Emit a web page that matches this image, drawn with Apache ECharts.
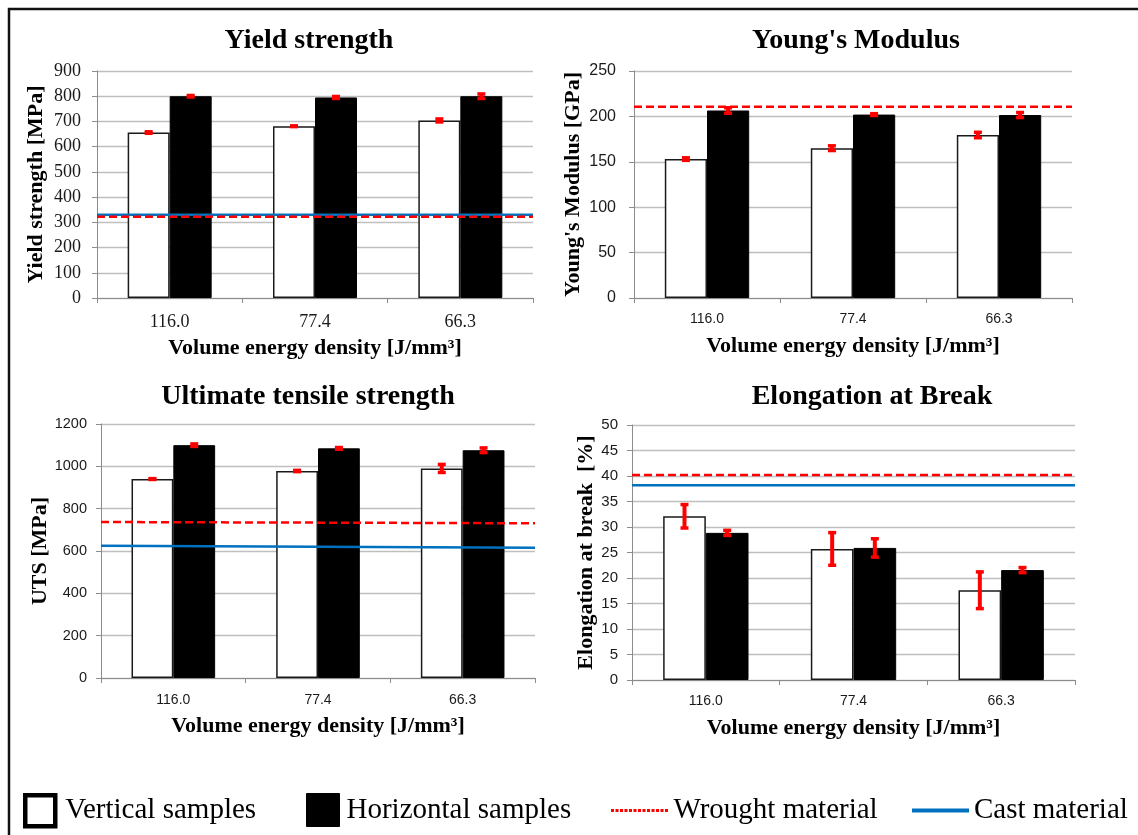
<!DOCTYPE html>
<html><head><meta charset="utf-8">
<script src="https://cdn.jsdelivr.net/npm/echarts@6/dist/echarts.min.js"></script>
<style>html,body{margin:0;padding:0;background:#fff}#c{width:1138px;height:835px}</style>
</head><body><div id="c"></div>
<script>
// ---------- DATA ----------
const categories = ['116.0', '77.4', '66.3'];

// Yield strength [MPa]
const ysVertical = [656, 681, 704];
const ysHorizontal = [800, 795, 800];
const ysVerticalErr = [3, 1.5, 6];
const ysHorizontalErr = [3, 4, 9];
const ysWrought = [322, 322];
const ysCast = [330, 330];
const ysTicks = { min: 0, max: 900, interval: 100 };

// Young's modulus [GPa]
const ymVertical = [153, 165, 179.5];
const ymHorizontal = [206.5, 202, 201.5];
const ymVerticalErr = [1.4, 2.6, 3];
const ymHorizontalErr = [3, 1, 2.8];
const ymWrought = [210.5, 210.5];
const ymTicks = { min: 0, max: 250, interval: 50 };

// Ultimate tensile strength [MPa]
const utsVertical = [940, 978, 990];
const utsHorizontal = [1100, 1085, 1076];
const utsVerticalErr = [2, 3, 19];
const utsHorizontalErr = [6, 4, 11];
const utsWrought = [737, 731];
const utsCast = [625, 615];
const utsTicks = { min: 0, max: 1200, interval: 200 };

// Elongation at break [%]
const elVertical = [32.1, 25.7, 17.6];
const elHorizontal = [28.85, 25.9, 21.55];
const elVerticalErr = [2.3, 3.2, 3.6];
const elHorizontalErr = [0.5, 1.8, 0.5];
const elWrought = [40.2, 40.2];
const elCast = [38.2, 38.2];
const elTicks = { min: 0, max: 50, interval: 5 };

// ---------- STYLE / LAYOUT ----------
const SERIF = 'Liberation Serif';
const SANS = 'Liberation Sans';
const BAR_FRAC = 0.289;
const AX = '#8c8c8c';

const panels = [
  { title: 'Yield strength', tx: 304, ty: 22, grid: { left: 97, top: 71, width: 436, height: 227 },
    yName: 'Yield strength [MPa]', yGap: 50, ticks: ysTicks,
    yFont: { fontFamily: SERIF, fontSize: 18, margin: 16 }, xFont: { fontFamily: SERIF, fontSize: 18, margin: 15 },
    v: ysVertical, h: ysHorizontal, ve: ysVerticalErr, he: ysHorizontalErr, wrought: ysWrought, cast: ysCast, xGap: 39 },
  { title: "Young's Modulus", tx: 851, ty: 22, grid: { left: 634, top: 71, width: 438, height: 227 },
    yName: "Young's Modulus [GPa]", yGap: 50, ticks: ymTicks,
    yFont: { fontFamily: SANS, fontSize: 16, margin: 18 }, xFont: { fontFamily: SANS, fontSize: 14, margin: 14 },
    v: ymVertical, h: ymHorizontal, ve: ymVerticalErr, he: ymHorizontalErr, wrought: ymWrought, cast: null, xGap: 37 },
  { title: 'Ultimate tensile strength', tx: 303, ty: 378, grid: { left: 101, top: 424, width: 434, height: 254 },
    yName: 'UTS [MPa]', yGap: 50, ticks: utsTicks,
    yFont: { fontFamily: SANS, fontSize: 14.5, margin: 14 }, xFont: { fontFamily: SANS, fontSize: 14, margin: 15 },
    v: utsVertical, h: utsHorizontal, ve: utsVerticalErr, he: utsHorizontalErr, wrought: utsWrought, cast: utsCast, xGap: 37 },
  { title: 'Elongation at Break', tx: 867, ty: 378, grid: { left: 632, top: 425, width: 443, height: 255 },
    yName: 'Elongation at break  [%]', yGap: 35, ticks: elTicks,
    yFont: { fontFamily: SANS, fontSize: 15, margin: 14 }, xFont: { fontFamily: SANS, fontSize: 14, margin: 14 },
    v: elVertical, h: elHorizontal, ve: elVerticalErr, he: elHorizontalErr, wrought: elWrought, cast: elCast, xGap: 37 }
];

function errorRender(side) {
  return function (params, api) {
    const idx = api.value(0), val = api.value(1), err = api.value(2);
    const band = api.size([1, 0])[0];
    const bw = band * BAR_FRAC;
    const x = api.coord([idx, val])[0] + side * bw / 2;
    const top = api.coord([idx, val + err])[1];
    const bot = api.coord([idx, val - err])[1];
    const red = '#ff0000';
    return { type: 'group', children: [
      { type: 'rect', shape: { x: x - 2, y: top, width: 4, height: bot - top }, style: { fill: red } },
      { type: 'rect', shape: { x: x - 4, y: top - 1.75, width: 8, height: 3.5 }, style: { fill: red } },
      { type: 'rect', shape: { x: x - 4, y: bot - 1.75, width: 8, height: 3.5 }, style: { fill: red } }
    ] };
  };
}

const option = { animation: false, backgroundColor: '#fff', title: [], grid: [], xAxis: [], yAxis: [], series: [] };

panels.forEach(function (p, i) {
  option.title.push({ text: p.title, left: p.tx, top: p.ty, textAlign: 'center',
    textStyle: { fontFamily: SERIF, fontWeight: 'bold', fontSize: 28, color: '#000' } });
  option.grid.push(Object.assign({ containLabel: false }, p.grid));
  option.xAxis.push({ type: 'category', gridIndex: i, data: categories, boundaryGap: true,
    axisLine: { lineStyle: { color: AX, width: 1 } },
    axisTick: { show: true, length: 5, lineStyle: { color: AX } },
    axisLabel: { fontFamily: p.xFont.fontFamily, fontSize: p.xFont.fontSize, margin: p.xFont.margin, color: '#1a1a1a' },
    name: 'Volume energy density [J/mm³]', nameLocation: 'middle', nameGap: p.xGap,
    nameTextStyle: { fontFamily: SERIF, fontWeight: 'bold', fontSize: 22, color: '#000' } });
  option.xAxis.push({ type: 'value', gridIndex: i, min: 0, max: 1, show: false });
  option.yAxis.push({ type: 'value', gridIndex: i, min: p.ticks.min, max: p.ticks.max, interval: p.ticks.interval,
    axisLine: { show: true, lineStyle: { color: AX, width: 1 } },
    axisTick: { show: true, length: 5, lineStyle: { color: AX } },
    splitLine: { show: true, lineStyle: { color: '#bfbfbf', width: 1.3 } },
    axisLabel: { fontFamily: p.yFont.fontFamily, fontSize: p.yFont.fontSize, margin: p.yFont.margin, color: '#1a1a1a',
      formatter: function (v) { return String(v); } },
    name: p.yName, nameLocation: 'middle', nameGap: p.yGap,
    nameTextStyle: { fontFamily: SERIF, fontWeight: 'bold', fontSize: 22, color: '#000' } });
  const cx = i * 2, vx = i * 2 + 1;
  option.series.push({ type: 'bar', name: 'Vertical samples', xAxisIndex: cx, yAxisIndex: i, data: p.v,
    barWidth: (BAR_FRAC * 100) + '%', barGap: '0%', z: 2,
    itemStyle: { color: '#ffffff', borderColor: '#1a1a1a', borderWidth: 1.5 } });
  option.series.push({ type: 'bar', name: 'Horizontal samples', xAxisIndex: cx, yAxisIndex: i, data: p.h,
    barWidth: (BAR_FRAC * 100) + '%', barGap: '0%', z: 2,
    itemStyle: { color: '#000000', borderColor: '#000', borderWidth: 1 } });
  option.series.push({ type: 'line', name: 'Wrought material', xAxisIndex: vx, yAxisIndex: i,
    data: [[0, p.wrought[0]], [1, p.wrought[1]]], symbol: 'none', silent: true, z: 4,
    itemStyle: { color: '#ff0000' },
    lineStyle: { color: '#ff0000', width: 2.5, type: [8, 4] } });
  if (p.cast) {
    option.series.push({ type: 'line', name: 'Cast material', xAxisIndex: vx, yAxisIndex: i,
      data: [[0, p.cast[0]], [1, p.cast[1]]], symbol: 'none', silent: true, z: 3,
      itemStyle: { color: '#0070c0' },
      lineStyle: { color: '#0070c0', width: 2.5 } });
  }
  option.series.push({ type: 'custom', name: 'errV' + i, xAxisIndex: cx, yAxisIndex: i, z: 5, silent: true,
    renderItem: errorRender(-1), data: p.v.map(function (v, k) { return [k, v, p.ve[k]]; }) });
  option.series.push({ type: 'custom', name: 'errH' + i, xAxisIndex: cx, yAxisIndex: i, z: 5, silent: true,
    renderItem: errorRender(1), data: p.h.map(function (v, k) { return [k, v, p.he[k]]; }) });
});

// legend line icons: dotted red and solid blue
let dotPath = 'path://';
for (let x = 0; x < 58; x += 4.5) dotPath += 'M' + x + ',0h3v3h-3z';
const solidPath = 'path://M0,0h57v4h-57z';

const legendText = { fontFamily: SERIF, fontSize: 29, color: '#000' };
option.legend = [
  { left: 18, top: 788, itemWidth: 30, itemHeight: 31, icon: 'rect', selectedMode: false,
    data: ['Vertical samples'], itemStyle: { color: '#fff', borderColor: '#000', borderWidth: 4.5 },
    textStyle: Object.assign({ padding: [0, 0, 0, 5] }, legendText) },
  { left: 301, top: 788, itemWidth: 33, itemHeight: 33, icon: 'rect', selectedMode: false,
    data: ['Horizontal samples'], itemStyle: { color: '#000', borderColor: '#000', borderWidth: 1 },
    textStyle: Object.assign({ padding: [0, 0, 0, 2] }, legendText) },
  { left: 606, top: 791, itemWidth: 58, itemHeight: 3, selectedMode: false,
    data: [{ name: 'Wrought material', icon: dotPath, itemStyle: { color: '#ff0000' } }], textStyle: legendText },
  { left: 907, top: 791, itemWidth: 57, itemHeight: 4, selectedMode: false,
    data: [{ name: 'Cast material', icon: solidPath, itemStyle: { color: '#0070c0' } }], textStyle: legendText }
];

option.graphic = [{ type: 'polyline', silent: true, shape: { points: [[9, 835], [9, 9], [1138, 9]] },
  style: { stroke: '#111', lineWidth: 2.5, fill: null } }];

const chart = echarts.init(document.getElementById('c'), null, { renderer: 'canvas' });
chart.setOption(option);
</script>
</body></html>
